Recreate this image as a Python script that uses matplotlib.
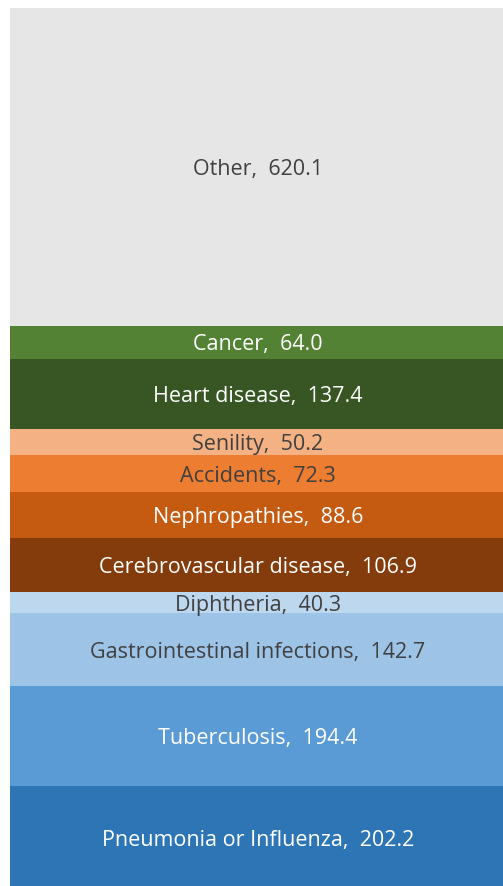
import matplotlib.pyplot as plt
import numpy as np

plt.rcParams['font.family'] = ['Open Sans', 'DejaVu Sans']

# bottom to top
causes = ["Pneumonia or Influenza", "Tuberculosis", "Gastrointestinal infections",
          "Diphtheria", "Cerebrovascular disease", "Nephropathies", "Accidents",
          "Senility", "Heart disease", "Cancer", "Other"]
rates = [202.2, 194.4, 142.7, 40.3, 106.9, 88.6, 72.3, 50.2, 137.4, 64.0, 620.1]
colors = ["#2e75b6", "#5b9bd5", "#9dc3e6", "#bdd7ee", "#843c0c", "#c55a11",
          "#ed7d31", "#f4b183", "#375623", "#548235", "#e6e6e6"]
text_colors = ["white", "white", "#404040", "#404040", "white", "white",
               "#404040", "#404040", "white", "white", "#404040"]

fig = plt.figure(figsize=(5.03, 8.86), dpi=100)
total = sum(rates)
# bar runs past the right and bottom edges of the picture
ax = fig.add_axes([9.5 / 503, -3.7 / 886, 1.05, 881.7 / 886])

bottoms = np.concatenate([[0], np.cumsum(rates)[:-1]])
ax.bar(0.5, rates, width=1.0, bottom=bottoms, color=colors, linewidth=0)

for name, r, b, tc in zip(causes, rates, bottoms, text_colors):
    ax.annotate(f"{name},  {r:.1f}", (0.47, b + r / 2), xytext=(0, -2.5),
                textcoords="offset pixels", ha="center", va="center",
                color=tc, fontsize=15.5)

ax.set_xlim(0, 1)
ax.set_ylim(0, total)
ax.axis("off")

fig.savefig("out.png", dpi=100)
